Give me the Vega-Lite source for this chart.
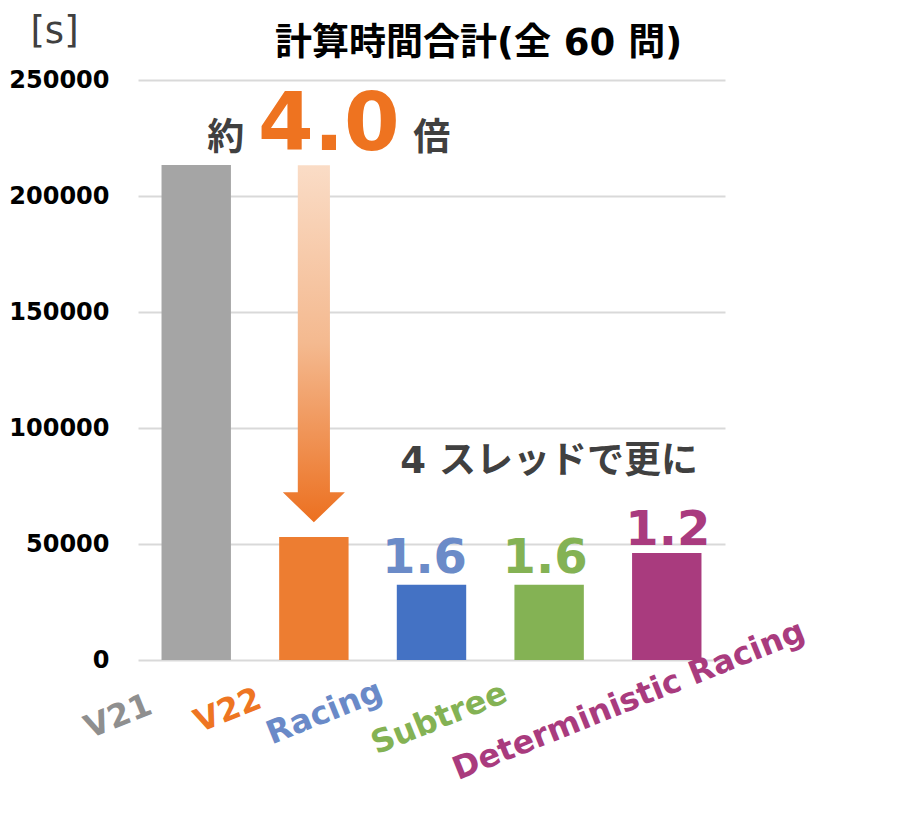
{
  "$schema": "https://vega.github.io/schema/vega-lite/v6.json",
  "width": 587,
  "height": 580,
  "autosize": {"type": "none"},
  "padding": {"left": 138, "top": 80, "right": 189, "bottom": 153},
  "background": "white",
  "config": {"view": {"stroke": null}},
  "datasets": {
    "bars": [
      {"name": "V21", "time": 213400},
      {"name": "V22", "time": 53000},
      {"name": "Racing", "time": 32400},
      {"name": "Subtree", "time": 32400},
      {"name": "Deterministic Racing", "time": 46100}
    ],
    "arrow": [{"name": "V22", "time": 136300}],
    "title": [{"name": "Racing", "time": 260800, "label": "計算時間合計(全 60 問)"}],
    "yaku": [{"name": "V22", "time": 220000, "label": "約"}],
    "ratio": [{"name": "V22", "time": 219800, "label": "4.0"}],
    "bai": [{"name": "V22", "time": 220000, "label": "倍"}],
    "thread": [{"name": "Subtree", "time": 80600, "label": "4 スレッドで更に"}],
    "r1": [{"name": "Racing", "time": 37500, "label": "1.6"}],
    "r2": [{"name": "Subtree", "time": 37500, "label": "1.6"}],
    "r3": [{"name": "Deterministic Racing", "time": 49600, "label": "1.2"}]
  },
  "encoding": {
    "x": {
      "field": "name",
      "type": "nominal",
      "sort": ["V21", "V22", "Racing", "Subtree", "Deterministic Racing"],
      "scale": {
        "domain": ["V21", "V22", "Racing", "Subtree", "Deterministic Racing"],
        "paddingInner": 0.41,
        "paddingOuter": 0.2
      },
      "axis": {
        "title": null,
        "domain": false,
        "ticks": false,
        "tickSize": 0,
        "grid": false,
        "labelAngle": -22,
        "labelAlign": "center",
        "labelBaseline": "middle",
        "labelFont": "DejaVu Sans",
        "labelFontWeight": "bold",
        "labelFontSize": 32,
        "labelLimit": 1000,
        "labelOverlap": false,
        "labelBound": false,
        "labelFlush": false,
        "labelColor": {
          "condition": [
            {"test": "datum.value === 'V21'", "value": "#8F8F8F"},
            {"test": "datum.value === 'V22'", "value": "#EE7522"},
            {"test": "datum.value === 'Racing'", "value": "#6A8AC8"},
            {"test": "datum.value === 'Subtree'", "value": "#84B254"}
          ],
          "value": "#A93B7E"
        },
        "labelOffset": {
          "condition": [
            {"test": "datum.value === 'V21'", "value": -78},
            {"test": "datum.value === 'V22'", "value": -86},
            {"test": "datum.value === 'Racing'", "value": -107},
            {"test": "datum.value === 'Subtree'", "value": -110}
          ],
          "value": -38
        },
        "labelPadding": {
          "condition": [
            {"test": "datum.value === 'V21'", "value": 56},
            {"test": "datum.value === 'V22'", "value": 50},
            {"test": "datum.value === 'Racing'", "value": 52},
            {"test": "datum.value === 'Subtree'", "value": 58}
          ],
          "value": 40
        }
      }
    },
    "y": {
      "field": "time",
      "type": "quantitative",
      "scale": {"domain": [0, 250000], "nice": false, "zero": true},
      "axis": {
        "values": [0, 50000, 100000, 150000, 200000, 250000],
        "format": "d",
        "labelFont": "DejaVu Sans",
        "labelFontWeight": "bold",
        "labelFontSize": 24,
        "labelColor": "#000000",
        "labelPadding": 29,
        "ticks": false,
        "domain": false,
        "gridColor": "#D9D9D9",
        "gridWidth": 2,
        "title": "[s]",
        "titleAngle": 0,
        "titleX": -84,
        "titleY": -49,
        "titleAlign": "center",
        "titleBaseline": "middle",
        "titleFont": "DejaVu Sans",
        "titleFontWeight": "normal",
        "titleFontSize": 37,
        "titleColor": "#404040"
      }
    }
  },
  "layer": [
    {
      "data": {"name": "bars"},
      "mark": {"type": "bar"},
      "encoding": {
        "color": {
          "field": "name",
          "type": "nominal",
          "scale": {
            "domain": ["V21", "V22", "Racing", "Subtree", "Deterministic Racing"],
            "range": ["#A5A5A5", "#ED7D31", "#4472C4", "#84B254", "#A93B7E"]
          },
          "legend": null
        }
      }
    },
    {
      "data": {"name": "arrow"},
      "mark": {
        "type": "point",
        "shape": "M-0.09,-1L0.09,-1L0.09,0.832L0.174,0.832L0,1L-0.174,0.832L-0.09,0.832Z",
        "size": 127449,
        "filled": true,
        "opacity": 1,
        "strokeWidth": 0,
        "fill": {
          "gradient": "linear",
          "x1": 0, "y1": 0, "x2": 0, "y2": 1,
          "stops": [
            {"offset": 0, "color": "#FADCC6"},
            {"offset": 0.5, "color": "#F4B98F"},
            {"offset": 1, "color": "#EC7020"}
          ]
        }
      }
    },
    {
      "data": {"name": "title"},
      "mark": {"type": "text", "dx": 47, "align": "center", "baseline": "alphabetic", "font": "DejaVu Sans, Noto Sans CJK JP", "fontWeight": "bold", "fontSize": 37, "color": "#000000"},
      "encoding": {"text": {"field": "label"}}
    },
    {
      "data": {"name": "yaku"},
      "mark": {"type": "text", "dx": -88, "align": "center", "baseline": "alphabetic", "font": "Noto Sans CJK JP", "fontWeight": "bold", "fontSize": 37, "color": "#404040"},
      "encoding": {"text": {"field": "label"}}
    },
    {
      "data": {"name": "ratio"},
      "mark": {"type": "text", "dx": 15, "align": "center", "baseline": "alphabetic", "font": "DejaVu Sans", "fontWeight": "bold", "fontSize": 80, "color": "#EE7320"},
      "encoding": {"text": {"field": "label"}}
    },
    {
      "data": {"name": "bai"},
      "mark": {"type": "text", "dx": 118, "align": "center", "baseline": "alphabetic", "font": "Noto Sans CJK JP", "fontWeight": "bold", "fontSize": 37, "color": "#404040"},
      "encoding": {"text": {"field": "label"}}
    },
    {
      "data": {"name": "thread"},
      "mark": {"type": "text", "dx": 0, "align": "center", "baseline": "alphabetic", "font": "DejaVu Sans, Noto Sans CJK JP", "fontWeight": "bold", "fontSize": 37, "color": "#404040"},
      "encoding": {"text": {"field": "label"}}
    },
    {
      "data": {"name": "r1"},
      "mark": {"type": "text", "dx": -7, "align": "center", "baseline": "alphabetic", "font": "DejaVu Sans", "fontWeight": "bold", "fontSize": 48, "color": "#6B8BC8"},
      "encoding": {"text": {"field": "label"}}
    },
    {
      "data": {"name": "r2"},
      "mark": {"type": "text", "dx": -4, "align": "center", "baseline": "alphabetic", "font": "DejaVu Sans", "fontWeight": "bold", "fontSize": 48, "color": "#84B254"},
      "encoding": {"text": {"field": "label"}}
    },
    {
      "data": {"name": "r3"},
      "mark": {"type": "text", "dx": 1, "align": "center", "baseline": "alphabetic", "font": "DejaVu Sans", "fontWeight": "bold", "fontSize": 48, "color": "#A93B7E"},
      "encoding": {"text": {"field": "label"}}
    }
  ]
}
